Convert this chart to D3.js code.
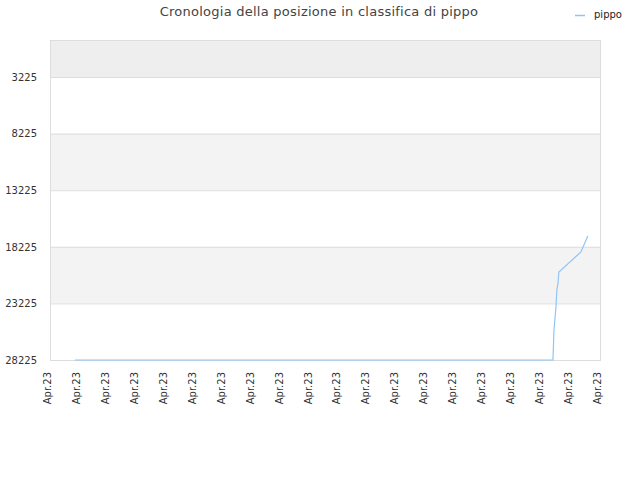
<!DOCTYPE html>
<html>
<head>
<meta charset="utf-8">
<script src="https://cdn.jsdelivr.net/npm/d3@7"></script>
<style>
  body { margin: 0; background: #fff; }
  text { font-family: "DejaVu Sans", sans-serif; }
</style>
</head>
<body>
<div id="chart"></div>
<script>
// data
var dates = [
  "2023-04-01T20:45", "2023-04-18T09:00", "2023-04-18T09:50", "2023-04-18T11:30",
  "2023-04-18T12:15", "2023-04-18T13:10", "2023-04-18T13:55", "2023-04-19T08:10",
  "2023-04-19T13:55"
];
var ranks = [28225, 28225, 25575, 23543, 22041, 21423, 20451, 18684, 17271];
var yTicks = [3225, 8225, 13225, 18225, 23225, 28225];
var tickDates = [
  "2023-04-01", "2023-04-02", "2023-04-03", "2023-04-04", "2023-04-05",
  "2023-04-06", "2023-04-07", "2023-04-08", "2023-04-09", "2023-04-10",
  "2023-04-11", "2023-04-12", "2023-04-13", "2023-04-14", "2023-04-15",
  "2023-04-16", "2023-04-17", "2023-04-18", "2023-04-19", "2023-04-20"
];
var seriesName = "pippo";
var title = "Cronologia della posizione in classifica di pippo";

function drawChart() {
  var w = 640;
  var h = 480;
  var margin = { top: 40, right: 40, bottom: 120, left: 50 };

  var parse = d3.timeParse("%Y-%m-%dT%H:%M");
  var parseDay = d3.timeParse("%Y-%m-%d");
  var dataset = dates.map(function (d, i) {
    return { date: parse(d), rank: ranks[i] };
  });
  var ticks = tickDates.map(parseDay);

  //Set up Scales
  var xScale = d3.scaleTime()
    .domain([ticks[0], ticks[ticks.length - 1]])
    .range([margin.left, w - margin.right]);
  var yScale = d3.scaleLinear()
    .domain([-45, 28225])
    .range([margin.top, h - margin.bottom]);

  var svg = d3.select("#chart")
    .append("svg")
    .attr("width", w)
    .attr("height", h);

  // bands between gridlines
  var edges = [-45].concat(yTicks);
  for (var i = 0; i < edges.length - 1; i++) {
    var fill = "#ffffff";
    if (i === 0) fill = "#eeeeee";
    else if (i % 2 === 0) fill = "#f3f3f3";
    svg.append("rect")
      .attr("x", margin.left)
      .attr("y", yScale(edges[i]))
      .attr("width", w - margin.right - margin.left)
      .attr("height", yScale(edges[i + 1]) - yScale(edges[i]))
      .attr("fill", fill);
  }

  // gridlines
  svg.selectAll("line.grid")
    .data(yTicks)
    .enter()
    .append("line")
    .attr("class", "grid")
    .attr("x1", margin.left)
    .attr("x2", w - margin.right)
    .attr("y1", function (d) { return yScale(d) + 0.5; })
    .attr("y2", function (d) { return yScale(d) + 0.5; })
    .attr("stroke", "#dddddd");

  // frame
  svg.append("rect")
    .attr("x", margin.left + 0.5)
    .attr("y", margin.top + 0.5)
    .attr("width", w - margin.right - margin.left)
    .attr("height", h - margin.bottom - margin.top)
    .attr("fill", "none")
    .attr("stroke", "#dddddd");

  // y axis
  var yAxis = d3.axisLeft(yScale)
    .tickValues(yTicks)
    .tickSize(0)
    .tickPadding(13)
    .tickFormat(d3.format("d"));
  var gy = svg.append("g")
    .attr("transform", "translate(" + margin.left + ",0)")
    .call(yAxis);
  gy.select(".domain").remove();
  gy.selectAll("text")
    .attr("font-size", "10px")
    .attr("fill", "#333");

  // x axis
  var xAxis = d3.axisBottom(xScale)
    .tickValues(ticks)
    .tickSize(0)
    .tickFormat(function (d) { return d3.timeFormat("%b.%y")(d); });
  var gx = svg.append("g")
    .attr("transform", "translate(0," + (h - margin.bottom) + ")")
    .call(xAxis);
  gx.select(".domain").remove();
  gx.selectAll("text")
    .attr("font-size", "10px")
    .attr("fill", "#333")
    .attr("transform", "rotate(-90)")
    .attr("text-anchor", "end")
    .attr("x", -12)
    .attr("y", 0)
    .attr("dy", "0.05em");

  // line
  var line = d3.line()
    .x(function (d) { return xScale(d.date); })
    .y(function (d) { return yScale(d.rank); });
  svg.append("path")
    .datum(dataset)
    .attr("d", line)
    .attr("fill", "none")
    .attr("stroke", "#90c4f5")
    .attr("stroke-width", 1.2);

  // title
  svg.append("text")
    .attr("x", 319)
    .attr("y", 16)
    .attr("text-anchor", "middle")
    .attr("font-size", "13px")
    .attr("letter-spacing", "0.25px")
    .attr("fill", "#444")
    .text(title);

  // legend
  svg.append("line")
    .attr("x1", 575)
    .attr("x2", 585)
    .attr("y1", 15.5)
    .attr("y2", 15.5)
    .attr("stroke", "#90c4f5")
    .attr("stroke-width", 1.5);
  svg.append("text")
    .attr("x", 594)
    .attr("y", 18)
    .attr("font-size", "10px")
    .attr("fill", "#222")
    .text(seriesName);
}

window.onload = function () {
  drawChart();
};
</script>
</body>
</html>
